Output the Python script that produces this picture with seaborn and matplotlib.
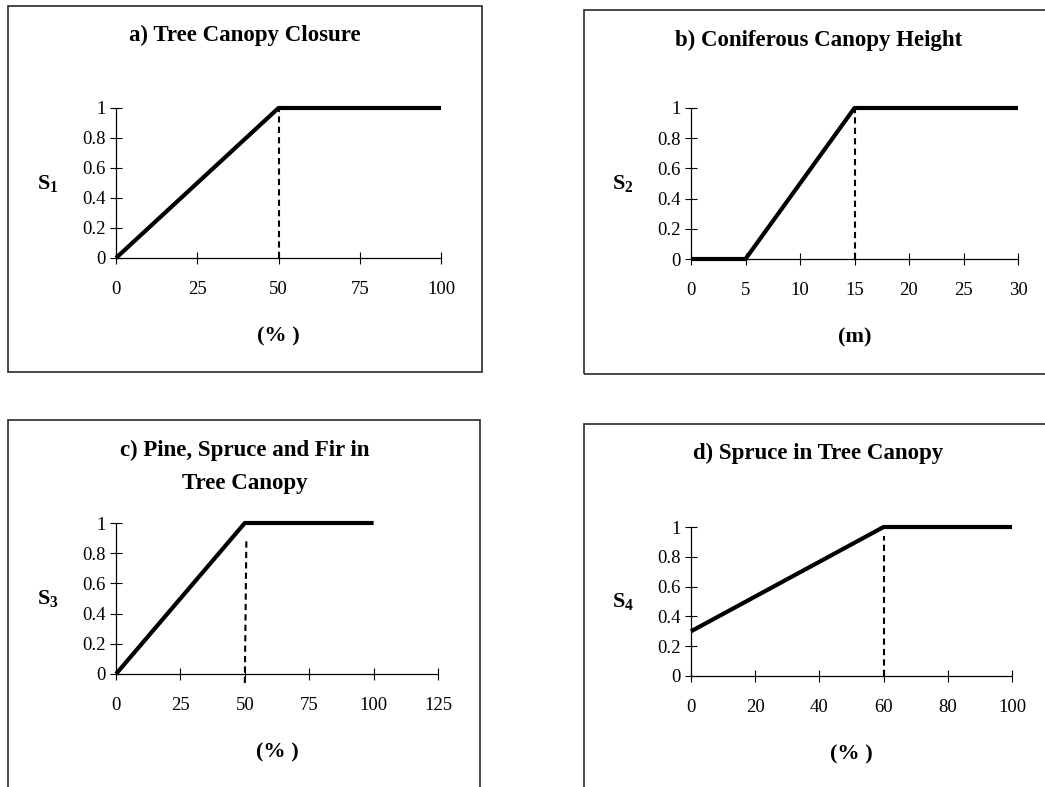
import numpy as np
import pandas as pd
import matplotlib

matplotlib.use('Agg')

import matplotlib.pyplot as plt
from matplotlib.patches import Rectangle
import seaborn as sns

sns.set_style("ticks")
plt.rcParams['font.family'] = ['Liberation Serif', 'DejaVu Serif']
plt.rcParams['mathtext.fontset'] = 'custom'
plt.rcParams['mathtext.bf'] = 'Liberation Serif:bold'
plt.rcParams['mathtext.rm'] = 'Liberation Serif'
plt.rcParams['text.color'] = 'black'
plt.rcParams['axes.labelcolor'] = 'black'
plt.rcParams['xtick.color'] = 'black'
plt.rcParams['ytick.color'] = 'black'

# suitability curves
titles = ['a) Tree Canopy Closure', 'b) Coniferous Canopy Height',
          'c) Pine, Spruce and Fir in\nTree Canopy', 'd) Spruce in Tree Canopy']
ylabels = [r'$\mathbf{S_1}$', r'$\mathbf{S_2}$', r'$\mathbf{S_3}$', r'$\mathbf{S_4}$']
xlabels = ['(% )', '(m)', '(% )', '(% )']

curve_a_x = [0, 50, 100]
curve_a_y = [0, 1, 1]
curve_b_x = [0, 5, 15, 30]
curve_b_y = [0, 0, 1, 1]
curve_c_x = [0, 50, 100]
curve_c_y = [0, 1, 1]
curve_d_x = [0, 60, 100]
curve_d_y = [0.3, 1, 1]

# dashed threshold markers: (x_bottom, x_top, y_bottom, y_top)
dash_a = (50, 50, 0, 1)
dash_b = (15, 15, 0, 1)
dash_c = (50, 50.6, -0.06, 0.88)
dash_d = (60, 60, 0, 0.94)

xticks_a = [0, 25, 50, 75, 100]
xticks_b = [0, 5, 10, 15, 20, 25, 30]
xticks_c = [0, 25, 50, 75, 100, 125]
xticks_d = [0, 20, 40, 60, 80, 100]
yticks = [0, 0.2, 0.4, 0.6, 0.8, 1]
ytick_labels = ['0', '0.2', '0.4', '0.6', '0.8', '1']

W, H = 1045, 787
fig = plt.figure(figsize=(W / 100, H / 100), dpi=100)


def px_axes(left, top, right, bottom):
    return [left / W, 1 - bottom / H, (right - left) / W, (bottom - top) / H]


# pixel boxes of the plotting areas
axes_px = [(116, 108, 441, 258), (691, 108, 1018, 259),
           (116, 523, 438, 674), (691, 527, 1012, 676)]
frames_px = [(8, 6, 482, 372), (584, 10, 1060, 374),
             (8, 420, 480, 800), (584, 424, 1060, 800)]
title_px = [(245, 35), (819, 40), (245, 467), (818, 453)]

curves = [(curve_a_x, curve_a_y), (curve_b_x, curve_b_y),
          (curve_c_x, curve_c_y), (curve_d_x, curve_d_y)]
dashes = [dash_a, dash_b, dash_c, dash_d]
xtick_sets = [xticks_a, xticks_b, xticks_c, xticks_d]

for i in range(4):
    l, t, r, b = frames_px[i]
    fig.add_artist(Rectangle((l / W, 1 - b / H), (r - l) / W, (b - t) / H,
                             transform=fig.transFigure, fill=False,
                             edgecolor='#2a2a2a', linewidth=1.2))

    ax = fig.add_axes(px_axes(*axes_px[i]))
    df = pd.DataFrame({'x': curves[i][0], 'y': curves[i][1]})
    sns.lineplot(data=df, x='x', y='y', ax=ax, color='black', linewidth=3,
                 clip_on=False, zorder=5, solid_capstyle='butt')
    x0, x1, y0, y1 = dashes[i]
    ax.plot([x0, x1], [y0, y1], color='black', linewidth=1.5,
            linestyle=(0, (3, 2)), clip_on=False, zorder=4)

    xt = xtick_sets[i]
    ax.set_xlim(xt[0], xt[-1])
    ax.set_ylim(0, 1)
    ax.set_xticks(xt)
    ax.set_xticklabels([str(v) for v in xt])
    ax.set_yticks(yticks)
    ax.set_yticklabels(ytick_labels)
    ax.tick_params(axis='both', direction='inout', length=8.5, width=0.8,
                   color='black', labelsize=13.5, bottom=True, left=True)
    ax.tick_params(axis='x', pad=12)
    ax.tick_params(axis='y', pad=3)
    for s in ['top', 'right']:
        ax.spines[s].set_visible(False)
    for s in ['left', 'bottom']:
        ax.spines[s].set_color('black')
        ax.spines[s].set_linewidth(0.9)
    ax.set_facecolor('none')

    ax.set_xlabel(xlabels[i], fontsize=16, fontweight='bold', labelpad=21)
    ax.set_ylabel(ylabels[i], fontsize=16, rotation=0, va='center', ha='center')
    ax.yaxis.set_label_coords(-68 / (axes_px[i][2] - axes_px[i][0]), 0.5)

    tx, ty = title_px[i]
    fig.text(tx / W, 1 - ty / H, titles[i], ha='center', va='center',
             fontsize=16.5, fontweight='bold', linespacing=1.8)

plt.savefig('out.png', dpi=100)
